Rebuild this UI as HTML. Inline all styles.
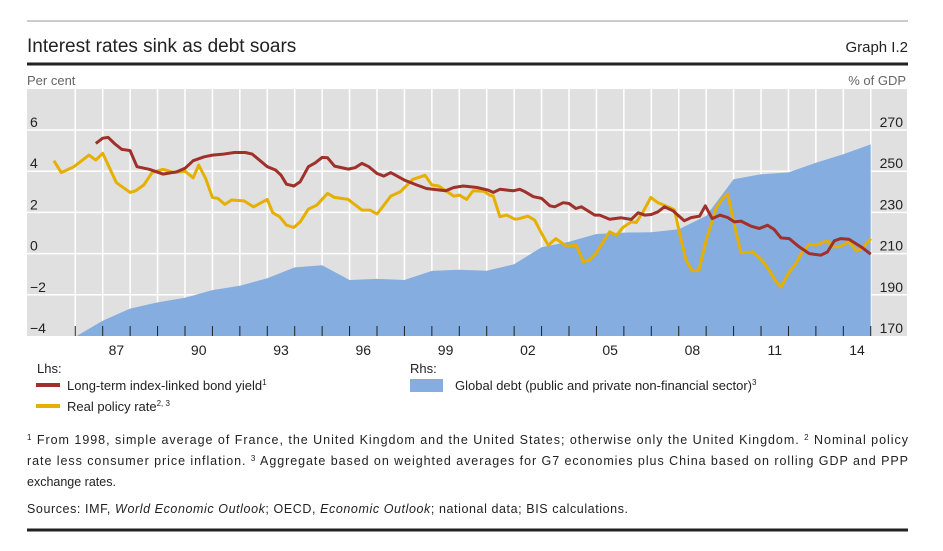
<!DOCTYPE html>
<html><head><meta charset="utf-8"><style>
body{margin:0;background:#fff;width:943px;height:551px;overflow:hidden;font-family:"Liberation Sans",Arial,sans-serif;}
svg{position:absolute;left:0;top:0}
</style></head><body>
<svg id="chart" width="943" height="551" viewBox="0 0 943 551">
<line x1="27" y1="21" x2="908" y2="21" stroke="#999" stroke-width="1"/>
<text x="27" y="52" font-size="19" fill="#222">Interest rates sink as debt soars</text>
<text x="908" y="52" font-size="15" fill="#222" text-anchor="end">Graph I.2</text>
<line x1="27" y1="64" x2="908" y2="64" stroke="#222" stroke-width="3"/>
<text x="27" y="85" font-size="13" fill="#666">Per cent</text>
<text x="906" y="85" font-size="13" fill="#666" text-anchor="end">% of GDP</text>
<rect x="27" y="89" width="880" height="247" fill="#e0e0e0"/>
<g id="grid"></g>
<g id="series"></g>
<g id="axes"></g>
<text x="37" y="373" font-size="13" fill="#222">Lhs:</text>
<rect x="36" y="383" width="24" height="4" fill="#a0302a"/>
<text x="67" y="390" font-size="13" fill="#222">Long-term index-linked bond yield<tspan font-size="8" dy="-5">1</tspan></text>
<rect x="36" y="404" width="24" height="4" fill="#e5b000"/>
<text x="67" y="411" font-size="13" fill="#222">Real policy rate<tspan font-size="8" dy="-5">2, 3</tspan></text>
<text x="410" y="373" font-size="13" fill="#222">Rhs:</text>
<rect x="410" y="379" width="33" height="13" fill="#85ade0"/>
<text x="455" y="390" font-size="13" fill="#222">Global debt (public and private non-financial sector)<tspan font-size="8" dy="-5">3</tspan></text>
<g font-size="12.5" fill="#222">
<text x="27" y="444" textLength="881" lengthAdjust="spacing"><tspan font-size="8" dy="-4">1</tspan><tspan dy="4"> From 1998, simple average of France, the United Kingdom and the United States; otherwise only the United Kingdom.    </tspan><tspan font-size="8" dy="-4">2</tspan><tspan dy="4"> Nominal policy</tspan></text>
<text x="27" y="465" textLength="881" lengthAdjust="spacing">rate less consumer price inflation.    <tspan font-size="8" dy="-4">3</tspan><tspan dy="4"> Aggregate based on weighted averages for G7 economies plus China based on rolling GDP and PPP</tspan></text>
<text x="27" y="486">exchange rates.</text>
<text x="27" y="513" textLength="601" lengthAdjust="spacing">Sources: IMF, <tspan font-style="italic">World Economic Outlook</tspan>; OECD, <tspan font-style="italic">Economic Outlook</tspan>; national data; BIS calculations.</text>
</g>
<line x1="27" y1="530" x2="908" y2="530" stroke="#222" stroke-width="3"/>
</svg>
<script>
const leftTicks=[6,4,2,0,-2,-4];
const leftTickLabels=["6","4","2","0","\u22122","\u22124"];
const rightTicks=[270,250,230,210,190,170];
const rightTickLabels=["270","250","230","210","190","170"];
const yearLabels=["87","90","93","96","99","02","05","08","11","14"];
const yearLabelYears=[1987,1990,1993,1996,1999,2002,2005,2008,2011,2014];
const debtT=[1986.05,1987,1988,1989,1990,1991,1992,1993,1994,1995,1996,1997,1998,1999,2000,2001,2002,2003,2004,2005,2006,2007,2008,2009,2010,2011,2012,2013,2014,2015];
const debtV=[170,177.4,183.3,186.3,188.6,192.3,194.4,198,203.3,204.3,197.2,197.7,197.2,201.6,202.2,201.7,204.8,213.1,215.8,219.5,220.2,220.4,221.8,228.3,246.1,248.5,249.4,254.1,258.2,263];
const policyT=[1985.22,1985.49,1985.95,1986.5,1986.75,1987,1987.2,1987.5,1988,1988.2,1988.5,1988.8,1989.2,1989.6,1990,1990.3,1990.5,1990.75,1991,1991.2,1991.45,1991.7,1992.15,1992.5,1993,1993.2,1993.45,1993.7,1993.97,1994.2,1994.5,1994.8,1995.2,1995.45,1995.95,1996.45,1996.75,1997,1997.25,1997.5,1997.85,1998.3,1998.75,1999,1999.25,1999.8,2000,2000.27,2000.5,2000.9,2001.1,2001.24,2001.48,2001.73,2002.03,2002.2,2002.5,2002.75,2003,2003.24,2003.52,2003.9,2004.27,2004.52,2004.76,2005,2005.48,2005.73,2005.97,2006.27,2006.45,2006.7,2006.98,2007.24,2007.67,2007.85,2008.03,2008.27,2008.5,2008.73,2009,2009.36,2009.6,2009.79,2009.91,2010.1,2010.27,2010.7,2011,2011.3,2011.55,2011.73,2012.03,2012.27,2012.5,2012.76,2013,2013.42,2013.6,2013.85,2014.2,2014.48,2014.7,2015];
const policyV=[4.51,3.93,4.22,4.78,4.54,4.87,4.3,3.44,2.97,3.05,3.33,3.93,4.09,3.93,4.0,3.68,4.3,3.65,2.73,2.68,2.39,2.6,2.56,2.27,2.63,1.98,1.79,1.38,1.27,1.54,2.16,2.35,2.92,2.73,2.63,2.11,2.11,1.92,2.35,2.79,3.0,3.6,3.8,3.33,3.28,2.79,2.84,2.63,3.05,3.03,2.84,2.79,1.79,1.87,1.67,1.7,1.82,1.62,0.98,0.41,0.73,0.36,0.41,-0.4,-0.29,0.04,1.06,0.9,1.27,1.54,1.51,2.03,2.73,2.47,2.24,2.11,0.98,-0.32,-0.84,-0.81,0.65,2.19,2.68,2.89,2.11,0.98,0.04,0.08,-0.27,-0.81,-1.37,-1.62,-0.89,-0.48,0.08,0.46,0.41,0.62,0.33,0.33,0.57,0.13,0.25,0.73];
const bondT=[1986.75,1987,1987.2,1987.45,1987.7,1988,1988.25,1988.7,1989.2,1989.7,1990,1990.3,1990.7,1991,1991.35,1991.8,1992.2,1992.45,1993,1993.3,1993.5,1993.7,1993.97,1994.2,1994.5,1994.75,1995,1995.2,1995.45,1995.95,1996.2,1996.45,1996.7,1997,1997.25,1997.5,1998,1998.45,1998.8,1999.5,1999.8,2000.15,2000.65,2001.06,2001.24,2001.48,2001.97,2002.2,2002.4,2002.7,2003,2003.3,2003.48,2003.79,2004,2004.25,2004.45,2004.94,2005.12,2005.48,2005.9,2006.27,2006.52,2006.76,2007,2007.24,2007.48,2007.79,2008.2,2008.45,2008.76,2008.97,2009.22,2009.5,2009.79,2010.03,2010.27,2010.64,2010.94,2011.24,2011.48,2011.73,2012.03,2012.39,2012.76,2013.18,2013.42,2013.67,2013.91,2014.2,2014.45,2014.7,2015];
const bondV=[5.35,5.6,5.64,5.32,5.06,5.0,4.22,4.09,3.86,3.97,4.14,4.51,4.7,4.78,4.82,4.91,4.91,4.83,4.22,4.06,3.81,3.37,3.28,3.49,4.22,4.41,4.67,4.65,4.25,4.1,4.17,4.38,4.22,3.89,3.76,3.93,3.57,3.33,3.16,3.05,3.21,3.28,3.21,3.08,2.97,3.12,3.05,3.12,3.0,2.76,2.68,2.32,2.27,2.47,2.43,2.19,2.27,1.87,1.87,1.67,1.74,1.66,1.98,1.87,1.9,2.03,2.27,2.08,1.59,1.75,1.82,2.32,1.7,1.87,1.75,1.54,1.58,1.33,1.22,1.38,1.17,0.76,0.73,0.33,0.0,-0.08,0.08,0.62,0.73,0.7,0.49,0.28,-0.03];

const NS="http://www.w3.org/2000/svg";
function X(t){return 102.7+(t-1987)*27.43;}
function YL(v){return 130+(6-v)*20.6;}
function YR(v){return 130+(270-v)*2.06;}
function mk(tag,attrs,parent){const e=document.createElementNS(NS,tag);for(const k in attrs)e.setAttribute(k,attrs[k]);parent.appendChild(e);return e;}
const grid=document.getElementById('grid'),series=document.getElementById('series'),axes=document.getElementById('axes');
for(let yr=1986;yr<=2015;yr++){
  const l=mk('line',{x1:X(yr),x2:X(yr),y1:89,y2:336,stroke:'#fff','stroke-width':1.5},grid);
  
  
}
leftTicks.forEach((v,i)=>{
  if(i<leftTicks.length-1){
    const l=mk('line',{x1:27,x2:907,y1:YL(v),y2:YL(v),stroke:'#fff','stroke-width':1.5},grid);
    
    
  }
  const t=mk('text',{x:30,y:YL(v)-3,'font-size':14,fill:'#222'},axes);t.textContent=leftTickLabels[i];
  
  
});
rightTicks.forEach((v,i)=>{
  const t=mk('text',{x:903,y:YR(v)-3,'font-size':14,fill:'#222','text-anchor':'end'},axes);t.textContent=rightTickLabels[i];
  
  
});
let d='M'+X(debtT[0])+','+YR(170);
debtT.forEach((t,i)=>{d+=' L'+X(t).toFixed(1)+','+YR(debtV[i]).toFixed(1);});
d+=' L'+X(debtT[debtT.length-1])+','+YR(170)+' Z';
const area=mk('path',{d:d,fill:'#85ade0'},series);


function line(T,V,color,name){
  const p=T.map((t,i)=>X(t).toFixed(1)+','+YL(V[i]).toFixed(1)).join(' ');
  const e=mk('polyline',{points:p,fill:'none',stroke:color,'stroke-width':3,'stroke-linejoin':'round'},series);
  
  
}
line(policyT,policyV,'#e5b000','policy-rate-line');
line(bondT,bondV,'#a0302a','bond-yield-line');
for(let yr=1986;yr<=2015;yr++){
  const l=mk('line',{x1:X(yr),x2:X(yr),y1:326,y2:336,stroke:'#222','stroke-width':1},axes);
  
  
}
yearLabels.forEach((s,i)=>{
  const t=mk('text',{x:X(yearLabelYears[i]+0.5),y:355,'font-size':14,fill:'#222','text-anchor':'middle'},axes);t.textContent=s;
  
  
});
</script>
</body></html>
